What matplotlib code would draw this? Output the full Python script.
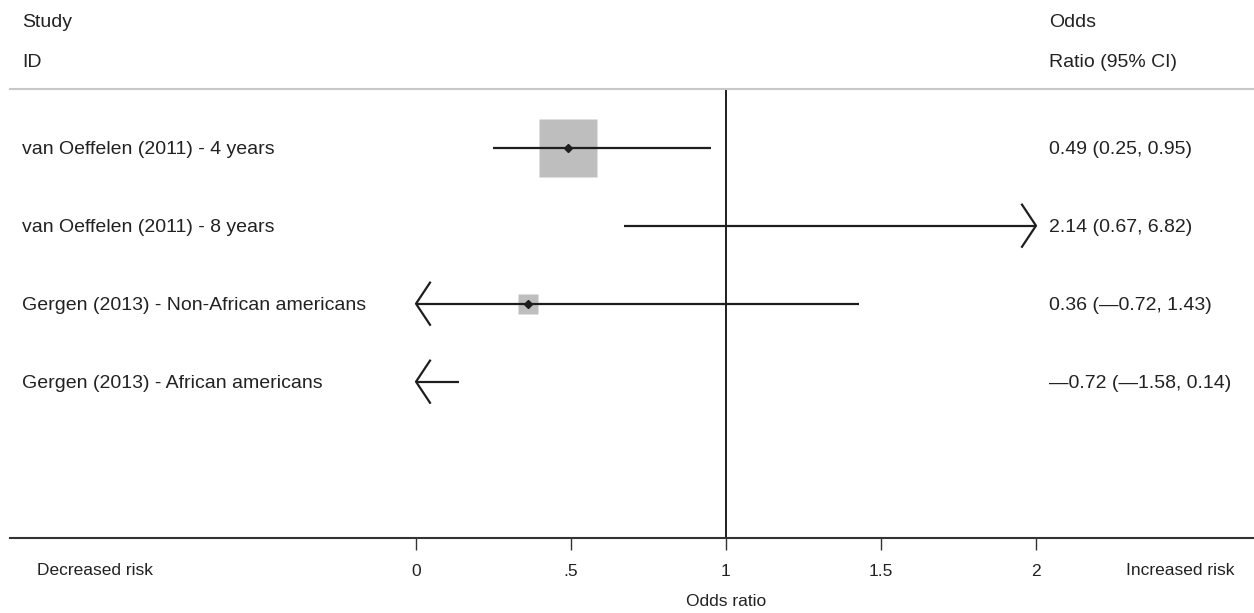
import matplotlib
matplotlib.use("Agg")
import matplotlib.pyplot as plt
import matplotlib.transforms as mtransforms

plt.rcParams['font.family'] = ['Liberation Sans', 'DejaVu Sans']

# ---- data ----
studies = [
    "van Oeffelen (2011) - 4 years",
    "van Oeffelen (2011) - 8 years",
    "Gergen (2013) - Non-African americans",
    "Gergen (2013) - African americans",
]
estimates = [0.49, 2.14, 0.36, -0.72]
ci_low = [0.25, 0.67, -0.72, -1.58]
ci_high = [0.95, 6.82, 1.43, 0.14]
weights = [8.3, 1.0, 1.0, 1.0]  # relative box weights (box area)
x_ticks = [0, 0.5, 1, 1.5, 2]
x_ticklabels = ["0", ".5", "1", "1.5", "2"]
x_min, x_max = 0, 2

W, H = 1254, 613
fig = plt.figure(figsize=(W / 100, H / 100), dpi=100)
ax = fig.add_axes([10 / W, (H - 538) / H, (W - 10) / W, (538 - 89) / H])

px_per_unit = 310.0
ax.set_xlim((10 - 416) / px_per_unit, (W - 416) / px_per_unit)
ax.set_ylim(6.004, 0.2474)

txt_col = "#222222"
line_col = "#1e1e1e"
fs = 14
fs_axis = 12.5

for s in ["left", "right"]:
    ax.spines[s].set_visible(False)
ax.spines["top"].set_color("#c8c8c8")
ax.spines["top"].set_linewidth(1.5)
ax.spines["bottom"].set_color("#333333")
ax.spines["bottom"].set_linewidth(1.5)
ax.set_yticks([])
ax.set_xticks(x_ticks)
ax.set_xticklabels(x_ticklabels, fontsize=fs_axis, color=txt_col)
ax.tick_params(axis="x", length=8.5, width=1.0, color="#333333", pad=10)

ax.axvline(1, color=line_col, lw=1.4, zorder=1)

head_dx = 14 / px_per_unit
head_dy = 0.27
wmax = max(weights)
for i, (est, lo, hi, w) in enumerate(zip(estimates, ci_low, ci_high, weights)):
    r = i + 1
    a = max(lo, x_min)
    b = min(hi, x_max)
    if x_min <= est <= x_max:
        ms = 42.0 * (w / wmax) ** 0.5
        ax.plot([est], [r], marker="s", ms=ms, color="#bebebe", mec="none", zorder=2)
    ax.plot([a, b], [r, r], color=line_col, lw=1.6, zorder=3, solid_capstyle="butt")
    if x_min <= est <= x_max:
        ax.plot([est], [r], marker="D", ms=4.5, color=line_col, zorder=4)
    if lo < x_min:
        ax.plot([a + head_dx, a, a + head_dx], [r - head_dy, r, r + head_dy],
                color=line_col, lw=1.6, zorder=3)
    if hi > x_max:
        ax.plot([b - head_dx, b, b - head_dx], [r - head_dy, r, r + head_dy],
                color=line_col, lw=1.6, zorder=3)

trans = mtransforms.blended_transform_factory(fig.transFigure, ax.transData)


def fmt(v):
    return f"{v:.2f}".replace("-", "—")


for i, (name, est, lo, hi) in enumerate(zip(studies, estimates, ci_low, ci_high)):
    r = i + 1
    ax.text(22 / W, r, name, transform=trans, ha="left", va="center_baseline",
            fontsize=fs, color=txt_col)
    ax.text(1049 / W, r, f"{fmt(est)} ({fmt(lo)}, {fmt(hi)})", transform=trans,
            ha="left", va="center_baseline", fontsize=fs, color=txt_col)

fig.text(22 / W, 1 - 27 / H, "Study", ha="left", va="baseline", fontsize=fs, color=txt_col)
fig.text(22 / W, 1 - 67 / H, "ID", ha="left", va="baseline", fontsize=fs, color=txt_col)
fig.text(1049 / W, 1 - 27 / H, "Odds", ha="left", va="baseline", fontsize=fs, color=txt_col)
fig.text(1049 / W, 1 - 67 / H, "Ratio (95% CI)", ha="left", va="baseline", fontsize=fs, color=txt_col)

fig.text(95 / W, 1 - 575 / H, "Decreased risk", ha="center", va="baseline", fontsize=fs_axis,
         color=txt_col)
fig.text(1180 / W, 1 - 575 / H, "Increased risk", ha="center", va="baseline", fontsize=fs_axis,
         color=txt_col)
fig.text(726 / W, 1 - 606 / H, "Odds ratio", ha="center", va="baseline", fontsize=fs_axis,
         color=txt_col)

fig.savefig("out.png", dpi=100, facecolor="white")
